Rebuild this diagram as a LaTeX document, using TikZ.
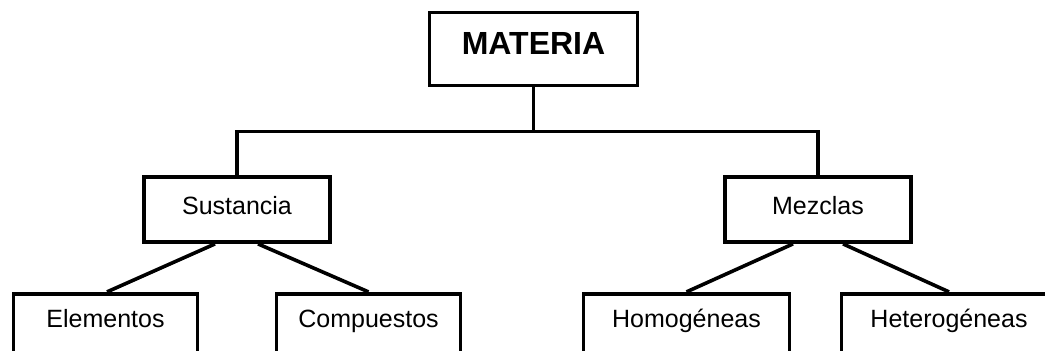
\documentclass[tikz,border=0pt]{standalone}
\usepackage{fontspec}
\setmainfont{Liberation Sans}
\usetikzlibrary{positioning,calc}

\begin{document}
\begin{tikzpicture}[
    x=1pt, y=-1pt,
    box/.style={draw, line width=3.6pt, rectangle, inner xsep=0pt, inner ysep=0pt,
      align=center, font=\fontsize{25}{29}\selectfont},
    top/.style={box, minimum width=208pt, text height=42pt, text depth=31pt,
      font=\fontsize{32}{36}\selectfont\bfseries},
    mid/.style={box, minimum width=186pt, text height=37pt, text depth=28pt},
    leaf/.style={box, text height=34pt, text depth=50pt},
    link/.style={line width=3.6pt}
]
    \useasboundingbox (0,0) rectangle (1045,351);
    \clip (0,0) rectangle (1045,351);

    \node [top] (materia) at (533.5,49) {MATERIA};
    \node [mid, below=88pt of materia, xshift=-296.5pt] (sustancia) {Sustancia};
    \node [mid, below=88pt of materia, xshift=284.5pt] (mezclas) {Mezclas};

    \node [leaf, minimum width=184pt, below=48pt of sustancia, xshift=-131.5pt] (elementos) {Elementos};
    \node [leaf, minimum width=184pt, below=48pt of sustancia, xshift=131.5pt] (compuestos) {Compuestos};
    \node [leaf, minimum width=206pt, below=48pt of mezclas, xshift=-131.5pt] (homogeneas) {Homogéneas};
    \node [leaf, minimum width=215pt, below=48pt of mezclas, xshift=131pt] (heterogeneas) {Heterogéneas};

    % tronco comun
    \coordinate (bus) at ($(materia.south)+(0,44)$);
    \draw [link] (materia.south) -- (bus);
    \draw [link] (sustancia.north) |- (bus) -| (mezclas.north);

    % ramas
    \draw [link] ($(sustancia.south)+(-22,0)$) -- ($(elementos.north)+(1.5,0)$);
    \draw [link] ($(sustancia.south)+(21,0)$) -- (compuestos.north);
    \draw [link] ($(mezclas.south)+(-25,0)$) -- (homogeneas.north);
    \draw [link] ($(mezclas.south)+(25,0)$) -- (heterogeneas.north);
\end{tikzpicture}
\end{document}
